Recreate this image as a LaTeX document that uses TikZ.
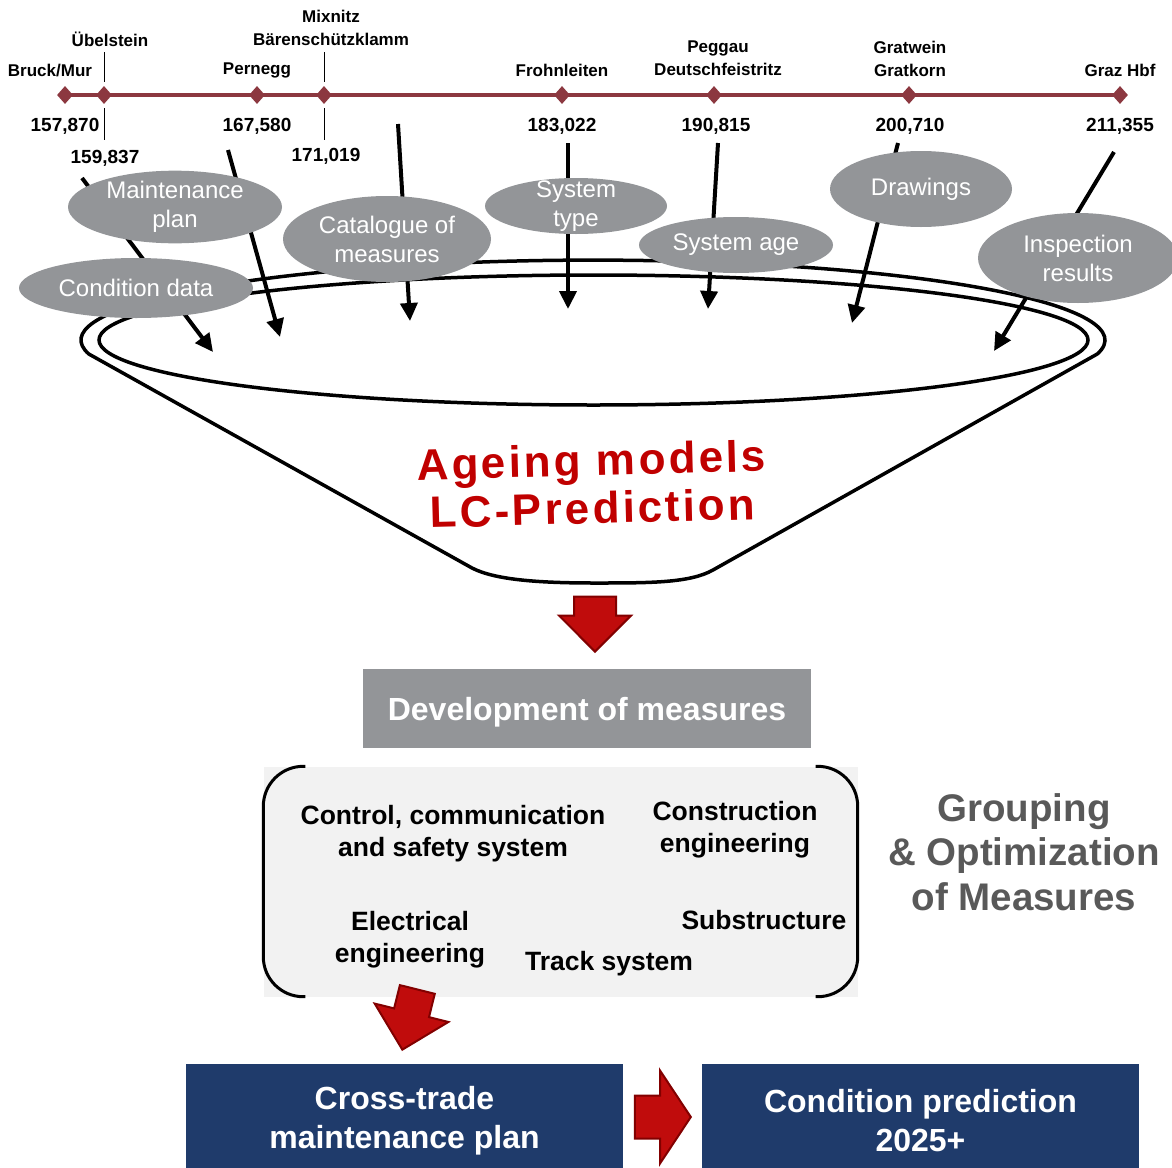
\documentclass[tikz,border=0pt]{standalone}
\usepackage{fontspec}
\setmainfont{Liberation Sans}
\newfontfamily\spacedfont[LetterSpace=7]{Liberation Sans}
\usetikzlibrary{positioning}
\usetikzlibrary{shapes.geometric, shapes.arrows, arrows.meta}

\definecolor{rail}{RGB}{140,56,64}
\definecolor{bubblegray}{RGB}{147,149,152}
\definecolor{ageing}{RGB}{192,0,0}
\definecolor{blockred}{RGB}{192,12,12}
\definecolor{blockedge}{RGB}{130,0,0}
\definecolor{navy}{RGB}{31,59,107}
\definecolor{groupgray}{RGB}{89,89,89}
\definecolor{groupfill}{RGB}{242,242,242}

\tikzstyle{halt} = [diamond, fill=rail, inner sep=0pt,
minimum width=16pt, minimum height=18pt]
\tikzstyle{station} = [inner sep=0pt, align=center,
font=\fontsize{17}{23}\selectfont\bfseries]
\tikzstyle{km} = [inner sep=0pt, font=\fontsize{19}{22}\selectfont\bfseries]
\tikzstyle{railway} = [line width=3.5pt, draw=rail]
\tikzstyle{tick} = [line width=1pt]
\tikzstyle{bubble} = [ellipse, fill=bubblegray, text=white, inner sep=0pt,
align=center, font=\fontsize{24}{29}\selectfont]
\tikzstyle{arrow} = [line width=4pt, -{Triangle[length=18pt, width=17pt]}]
\tikzstyle{funnel} = [line width=3.5pt]
\tikzstyle{blockarrow} = [single arrow, fill=blockred, draw=blockedge,
line width=2pt, inner xsep=0pt, single arrow head indent=0pt, anchor=tip]
\tikzstyle{greybox} = [rectangle, fill=bubblegray, text=white,
minimum width=448pt, minimum height=79pt, text depth=0pt,
font=\fontsize{32}{38}\selectfont\bfseries]
\tikzstyle{groupbox} = [rectangle, fill=groupfill,
minimum width=594pt, minimum height=230pt]
\tikzstyle{bracket} = [line width=3pt, rounded corners=40pt]
\tikzstyle{trade} = [inner sep=0pt, align=center,
font=\fontsize{26.5}{32}\selectfont\bfseries]
\tikzstyle{navybox} = [rectangle, fill=navy, text=white, align=center,
minimum width=437pt, minimum height=114pt,
font=\fontsize{32}{39}\selectfont\bfseries]

\begin{document}
\begin{tikzpicture}[x=1pt, y=-1pt, node distance=31pt]
            \useasboundingbox (0,0) rectangle (1172,1167);

            % funnel
            \draw [funnel] (88.8,354) arc [start angle=170, end angle=370, x radius=512, y radius=80]
                -- (713,570) .. controls (690,583) and (650,583) .. (595,583)
                .. controls (540,583) and (495,580) .. (472,568) -- cycle;
            \draw [funnel] (593.5,340) ellipse [x radius=494.5, y radius=65];
            \node (lc) [text=ageing, align=center, rotate=1.5,
                font=\fontsize{44}{48}\selectfont\spacedfont\bfseries] at (592,484) {Ageing models\\LC-Prediction};

            % timeline
            \node (d1) [halt] at (65,95) {};
            \node (d2) [halt] at (104,95) {};
            \node (d3) [halt] at (257,95) {};
            \node (d4) [halt] at (324,95) {};
            \node (d5) [halt] at (562,95) {};
            \node (d6) [halt] at (714,95) {};
            \node (d7) [halt] at (909,95) {};
            \node (d8) [halt] at (1120,95) {};
            \draw [railway] (d1.center) -- (d8.center);

            \node (bruck) [station] at (50,71) {Bruck/Mur};
            \node (ubel) [station] at (110,39) {Übelstein};
            \node (pern) [station, above of=d3, yshift=-6pt] {Pernegg};
            \node (mix) [station] at (331,27.5) {Mixnitz\\Bärenschützklamm};
            \node (froh) [station, above of=d5, yshift=-6pt] {Frohnleiten};
            \node (pegg) [station] at (718,58.5) {Peggau\\Deutschfeistritz};
            \node (grat) [station] at (910,58.5) {Gratwein\\Gratkorn};
            \node (graz) [station, above of=d8, yshift=-6pt] {Graz Hbf};

            \node (k1) [km, below of=d1] {157,870};
            \node (k2) [km] at (105,158) {159,837};
            \node (k3) [km, below of=d3] {167,580};
            \node (k4) [km] at (326,156) {171,019};
            \node (k5) [km, below of=d5] {183,022};
            \node (k6) [km, below of=d6, xshift=2pt] {190,815};
            \node (k7) [km, below of=d7, xshift=1pt] {200,710};
            \node (k8) [km, below of=d8] {211,355};

            \draw [tick] ([yshift=4pt]d2.north) -- ++(0,-30);
            \draw [tick] ([yshift=-4pt]d2.south) -- ++(0,32);
            \draw [tick] ([yshift=4pt]d4.north) -- ++(0,-30);
            \draw [tick] ([yshift=-4pt]d4.south) -- ++(0,32);

            % inputs
            \coordinate (s1) at (82,178);    \coordinate (t1) at (213,352);
            \coordinate (s2) at (228,150);   \coordinate (t2) at (280,337);
            \coordinate (s3) at (398,124);   \coordinate (t3) at (410,321);
            \coordinate (s4) at (568,143);   \coordinate (t4) at (568,309);
            \coordinate (s5) at (718,143);   \coordinate (t5) at (708,309);
            \coordinate (s6) at (898,143);   \coordinate (t6) at (852,323);
            \coordinate (s7) at (1114,152);  \coordinate (t7) at (994,351);
            \draw [arrow] (s1) -- (t1);
            \draw [arrow] (s2) -- (t2);
            \draw [arrow] (s3) -- (t3);
            \draw [arrow] (s4) -- (t4);
            \draw [arrow] (s5) -- (t5);
            \draw [arrow] (s6) -- (t6);
            \draw [arrow] (s7) -- (t7);

            \node (mplan) [bubble, minimum width=214pt, minimum height=72pt] at (175,207) {Maintenance\\plan};
            \node (cat) [bubble, minimum width=208pt, minimum height=86pt] at (387,239) {Catalogue of\\measures};
            \node (stype) [bubble, minimum width=182pt, minimum height=56pt, inner ysep=-12pt] at (576,206) {System\\type};
            \node (sage) [bubble, minimum width=194pt, minimum height=56pt] at (736,245) {System age};
            \node (draw) [bubble, minimum width=182pt, minimum height=76pt] at (921,189) {Drawings};
            \node (insp) [bubble, minimum width=200pt, minimum height=90pt] at (1078,258) {Inspection\\results};
            \node (cond) [bubble, minimum width=234pt, minimum height=60pt] at (136,288) {Condition data};

            % measures
            \node (down) [blockarrow, rotate=270, minimum height=55pt, minimum width=70pt,
                inner ysep=20pt, single arrow head extend=15pt] at (595,653) {};
            \node (dev) [greybox] at (587,708.5) {Development of measures};

            \node (group) [groupbox] at (560.5,881.5) {};
            \draw [bracket] ([xshift=42pt]group.north west) -- (group.north west)
                -- (group.south west) -- ([xshift=42pt]group.south west);
            \draw [bracket] ([xshift=-42pt]group.north east) -- (group.north east)
                -- (group.south east) -- ([xshift=-42pt]group.south east);
            \node (ccs) [trade] at (453,834) {Control, communication\\and safety system};
            \node (cons) [trade] at (735,830) {Construction\\engineering};
            \node (elec) [trade] at (410,940) {Electrical\\engineering};
            \node (sub) [trade] at (764,920) {Substructure};
            \node (track) [trade] at (609,964) {Track system};
            \node (grouping) [text=groupgray, align=center,
                font=\fontsize{38.5}{44.5}\selectfont\bfseries] at (1024,852) {Grouping\\\& Optimization\\of Measures};

            \node (plan) [navybox] at (404.5,1121) {Cross-trade\\maintenance plan};
            \node (pred) [navybox] at (920.5,1121) {Condition prediction\\2025+};
            \node (toplan) [blockarrow, rotate=256, minimum height=62pt, minimum width=74pt,
                inner ysep=17pt, single arrow head extend=20pt] at (402,1051) {};
            \node (topred) [blockarrow, minimum height=56pt, minimum width=91pt,
                inner ysep=20.5pt, single arrow head extend=25pt, single arrow tip angle=113] at (692,1117) {};
\end{tikzpicture}
\end{document}
